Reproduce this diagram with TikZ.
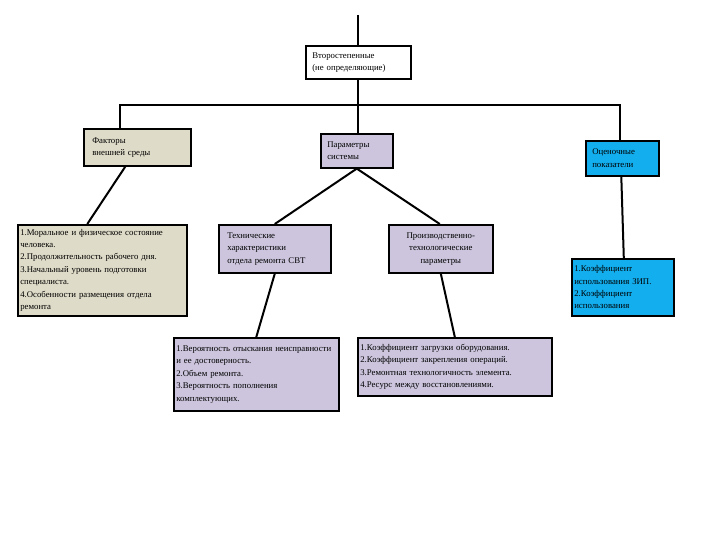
\documentclass[tikz,border=0pt]{standalone}
\usepackage{fontspec}
\setmainfont{Liberation Serif}
\begin{document}
\begin{tikzpicture}[x=1bp,y=-1bp,
  box/.style={draw=black,line width=1.6bp,anchor=north west,inner sep=1.5bp,font=\fontsize{8.8}{12.5}\selectfont},
  ln/.style={line width=2bp},
  lav/.style={fill=lav}, tan/.style={fill=tanc}, blu/.style={fill=bluc}]
\definecolor{lav}{HTML}{CCC5DD}
\definecolor{tanc}{HTML}{DEDBC8}
\definecolor{bluc}{HTML}{12AEEE}
\useasboundingbox (0,0) rectangle (720,540);
\node[box,fill=white,minimum width=105bp,minimum height=33bp,text width=100bp,align=left] (top) at (305,45) {\hspace*{4bp}Второстепенные\\\hspace*{4bp}(не определяющие)};
\node[box,tan,minimum width=107bp,minimum height=37bp,text width=102bp,align=left] (f) at (83,128) {\hspace*{6bp}Факторы\\\hspace*{6bp}внешней среды};
\node[box,lav,minimum width=72bp,minimum height=34bp,text width=67bp,align=left] (p) at (320,133) {\hspace*{4bp}Параметры\\\hspace*{4bp}системы};
\node[box,blu,minimum width=73bp,minimum height=35bp,text width=68bp,align=left] (o) at (585,140) {\hspace*{4bp}Оценочные\\\hspace*{4bp}показатели};
\node[box,tan,minimum width=169bp,minimum height=91bp,text width=164bp,align=left] (f1) at (17,224) {1.Моральное и физическое состояние человека.\\2.Продолжительность рабочего дня.\\3.Начальный уровень подготовки специалиста.\\4.Особенности размещения отдела\\ ремонта};
\node[box,lav,minimum width=112bp,minimum height=48bp,text width=107bp,align=left] (t) at (218,224) {\hspace*{6bp}Технические\\\hspace*{6bp}характеристики\\\hspace*{6bp}отдела ремонта СВТ};
\node[box,lav,minimum width=104bp,minimum height=48bp,text width=99bp,align=center] (pr) at (388,224) {Производственно-\\технологические\\параметры};
\node[box,blu,minimum width=102bp,minimum height=57bp,text width=97bp,align=left] (o1) at (571,258) {1.Коэффициент использования ЗИП.\\2.Коэффициент использования};
\node[box,lav,minimum width=165bp,minimum height=73bp,text width=160bp,align=left] (t1) at (173,337) {1.Вероятность отыскания неисправности и ее достоверность.\\2.Объем ремонта.\\3.Вероятность пополнения комплектующих.};
\node[box,lav,minimum width=194bp,minimum height=58bp,text width=189bp,align=left] (pr1) at (357,337) {1.Коэффициент загрузки оборудования.\\2.Коэффициент закрепления операций.\\3.Ремонтная технологичность элемента.\\4.Ресурс между восстановлениями.};
\coordinate (in) at (358,15);
\coordinate (hl) at (120,105);
\coordinate (hr) at (620,105);
\coordinate (hm) at (358,105);
\draw[ln] (in) -- (top.north -| in);
\draw[ln] (top.south -| hm) -- (hm);
\draw[ln] (f.north -| hl) -- (hl) -- (hr) -- (o.north -| hr);
\draw[ln] (hm) -- (p.north -| hm);
\draw[ln] ([xshift=-12bp]f.south) -- ([xshift=-15bp]f1.north);
\draw[ln] (p.south) -- (t.north);
\draw[ln] (p.south) -- ([xshift=-1bp]pr.north);
\draw[ln] ([xshift=-1bp]o.south) -- ([xshift=1bp]o1.north);
\draw[ln] (t.south) -- (t1.north);
\draw[ln] (pr.south) -- (pr1.north);
\end{tikzpicture}
\end{document}
